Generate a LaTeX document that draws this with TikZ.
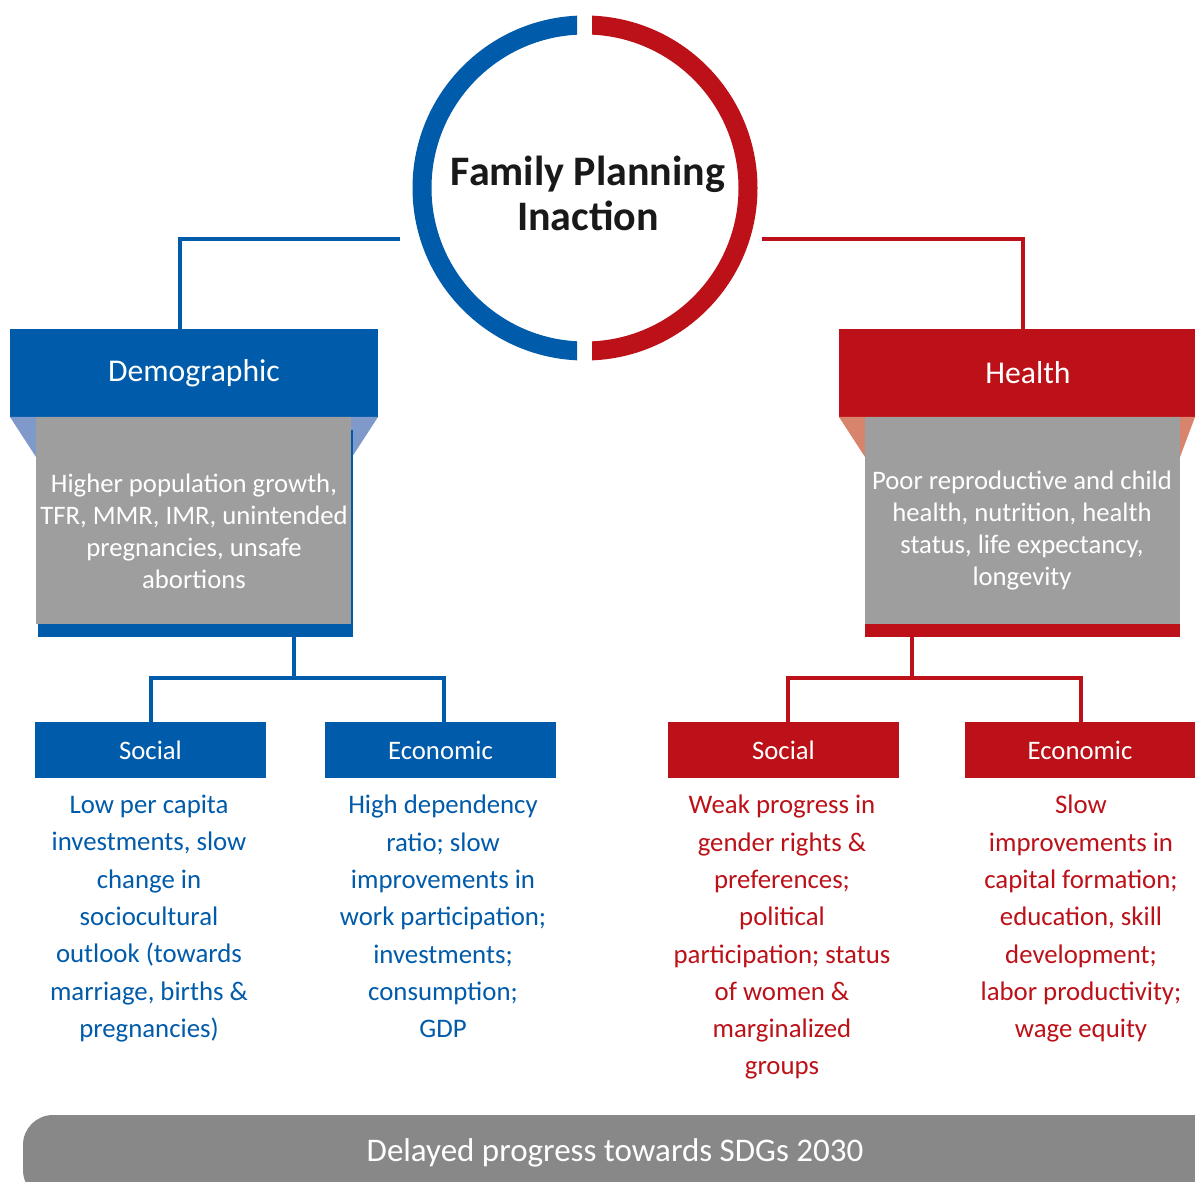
\documentclass[tikz,border=0pt]{standalone}
\usepackage{fontspec}
\setmainfont{Carlito}
\definecolor{fpblue}{RGB}{0,91,170}
\definecolor{fpred}{RGB}{188,17,24}
\definecolor{fplblue}{RGB}{128,153,203}
\definecolor{fpsalmon}{RGB}{216,132,108}
\definecolor{fpgray}{RGB}{157,158,157}
\definecolor{fpbar}{RGB}{135,136,135}
\tikzset{
  head/.style={rectangle, inner sep=0pt, minimum width=#1, minimum height=88pt, text=white, font=\fontsize{31.7}{36}\selectfont},
  sub/.style={rectangle, inner sep=0pt, minimum width=231pt, minimum height=56pt, text=white, font=\fontsize{26.7}{30}\selectfont},
  effect/.style={inner sep=0pt, align=center, text=white, font=\fontsize{26.7}{32}\selectfont},
  detail/.style={inner sep=0pt, align=center, anchor=north, font=\fontsize{26.8}{37.3}\selectfont},
  bline/.style={draw=fpblue, line width=3.5pt},
  rline/.style={draw=fpred, line width=3.5pt},
}
\begin{document}
\begin{tikzpicture}[x=1pt,y=-1pt]
\clip (0,0) rectangle (1195,1182);
\fill[white] (0,0) rectangle (1195,1182);
% circle
\coordinate (cc) at (585,188);
\begin{scope}
  \clip (0,0) rectangle (577,400);
  \draw[fpblue, line width=19pt] (cc) circle (163pt);
\end{scope}
\begin{scope}
  \clip (592,0) rectangle (800,400);
  \draw[fpred, line width=19pt] (cc) circle (163pt);
\end{scope}
\node[align=center, font=\bfseries\fontsize{42}{45}\selectfont, text=black!90] (title) at (588,193) {Family Planning\\Inaction};
% heads
\node[head=368pt, fill=fpblue] (demo) at (194,373) {Demographic};
\node[head=378pt, fill=fpred] (health) at (1028,373) {Health};
% trapezoids
\fill[fplblue] (10,417) -- (378,417) -- (352,457) -- (36,457) -- cycle;
\fill[fpsalmon] (839,417) -- (1195,417) -- (1180,457) -- (865,457) -- cycle;
% effect boxes
\fill[fpblue] (38,430) rectangle (353,637);
\fill[fpgray] (36,417) rectangle (351,624);
\fill[fpred] (865,624) rectangle (1180,637);
\fill[fpgray] (865,417) rectangle (1180,624);
\node[effect] (demoeff) at (194,531) {Higher population growth,\\TFR, MMR, IMR, unintended\\pregnancies, unsafe\\abortions};
\node[effect] (healtheff) at (1022,531) {Poor reproductive and child\\health, nutrition, health\\status, life expectancy,\\longevity};
% top connectors
\coordinate (cl) at (400,239);
\coordinate (cr) at (762,239);
\draw[bline] (cl) -| ([xshift=-14pt]demo.north);
\draw[rline] (cr) -| ([xshift=-5pt]health.north);
% sub heads
\node[sub, fill=fpblue] (bsoc) at (150.5,750) {Social};
\node[sub, fill=fpblue] (becon) at (440.5,750) {Economic};
\node[sub, fill=fpred] (rsoc) at (783.5,750) {Social};
\node[sub, fill=fpred] (recon) at (1080,750) {Economic};
% lower connectors
\coordinate (bj) at (294,637);
\coordinate (bm) at (294,678);
\coordinate (rj) at (912,637);
\coordinate (rm) at (912,678);
\draw[bline] (bj) -- (bm);
\draw[bline] (bm) -| ([xshift=0.5pt]bsoc.north);
\draw[bline] (bm) -| ([xshift=3.5pt]becon.north);
\draw[rline] (rj) -- (rm);
\draw[rline] (rm) -| ([xshift=4.5pt]rsoc.north);
\draw[rline] (rm) -| ([xshift=1pt]recon.north);
% details
\node[detail, text=fpblue] (bsoct) at (149,795) {Low per capita\\investments, slow\\change in\\sociocultural\\outlook (towards\\marriage, births \&\\pregnancies)};
\node[detail, text=fpblue] (becont) at (443,795) {High dependency\\ratio; slow\\improvements in\\work participation;\\investments;\\consumption;\\GDP};
\node[detail, text=fpred] (rsoct) at (782,795) {Weak progress in\\gender rights \&\\preferences;\\political\\participation; status\\of women \&\\marginalized\\groups};
\node[detail, text=fpred] (recont) at (1081,795) {Slow\\improvements in\\capital formation;\\education, skill\\development;\\labor productivity;\\wage equity};
% bottom bar
\fill[fpbar, rounded corners=30pt] (23,1115) rectangle (1240,1200);
\node[text=white, font=\fontsize{33}{38}\selectfont] (sdg) at (615,1153) {Delayed progress towards SDGs 2030};
\end{tikzpicture}
\end{document}
